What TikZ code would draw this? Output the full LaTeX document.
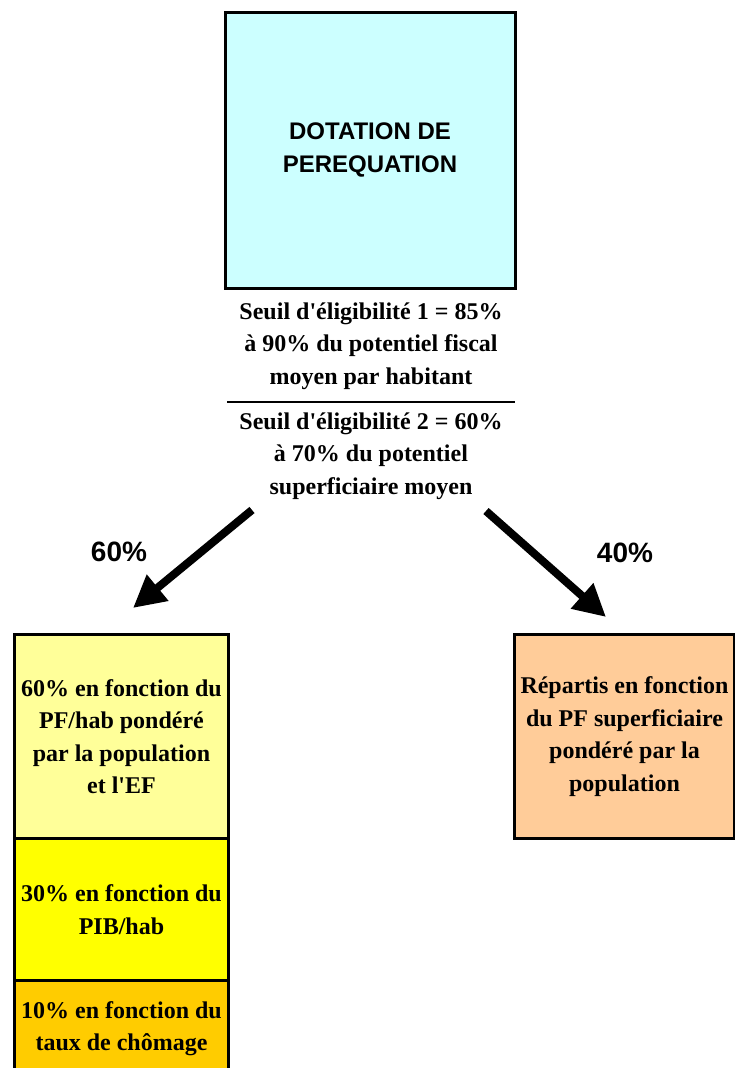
\documentclass[tikz,border=0pt]{standalone}
\usepackage{fontspec}
\setmainfont{Liberation Serif}
\newfontfamily\arialfont{Liberation Sans}
\usetikzlibrary{arrows.meta}
\definecolor{cyanbox}{HTML}{CCFFFF}
\definecolor{paleyellow}{HTML}{FFFF99}
\definecolor{brightyellow}{HTML}{FFFF00}
\definecolor{goldbox}{HTML}{FFCC00}
\definecolor{peachbox}{HTML}{FFCC99}
\newcommand{\apos}{\textquotesingle}
\tikzset{
  panel/.style={draw=black, line width=3pt, rectangle, inner sep=0pt, align=center,
    font=\fontsize{24}{32.5}\selectfont\bfseries},
  headline/.style={panel, font=\arialfont\fontsize{24}{33}\selectfont\bfseries},
  note/.style={inner sep=0pt, align=center, font=\fontsize{24}{32.5}\selectfont\bfseries},
  share/.style={inner sep=0pt, font=\arialfont\fontsize{28}{30}\selectfont\bfseries},
  bigarrow/.style={line width=8pt, -{Triangle[length=32pt,width=32pt]}},
}
\begin{document}
\begin{tikzpicture}[x=1pt,y=-1pt]
\useasboundingbox (0,0) rectangle (735,1068);

% main allocation
\node[headline, fill=cyanbox, minimum width=290pt, minimum height=276pt] (dot) at (370,150)
  {DOTATION DE\\PEREQUATION};

% eligibility thresholds
\node[note] (thr1) at (371,346) {Seuil d\apos éligibilité 1 = 85\%\\à 90\% du potentiel fiscal\\moyen par habitant};
\draw[line width=2.5pt] (227,402) -- (515,402);
\node[note] (thr2) at (371,456) {Seuil d\apos éligibilité 2 = 60\%\\à 70\% du potentiel\\superficiaire moyen};

% left branch: three stacked criteria
\node[panel, fill=paleyellow, minimum width=214pt, minimum height=204pt, anchor=north west] (c1) at (13,633)
  {60\% en fonction du\\PF/hab pondéré\\par la population\\et l\apos EF};
\node[panel, fill=brightyellow, minimum width=214pt, minimum height=142pt, anchor=north west] (c2) at (13,837)
  {30\% en fonction du\\PIB/hab};
\node[panel, fill=goldbox, minimum width=214pt, minimum height=96pt, anchor=north west] (c3) at (13,979)
  {10\% en fonction du\\taux de chômage};

% right branch
\node[panel, fill=peachbox, minimum width=220pt, minimum height=204pt, anchor=north west] (sup) at (513,633)
  {Répartis en fonction\\du PF superficiaire\\pondéré par la\\population};

% split arrows
\coordinate (ls) at (252,510);
\coordinate (le) at (133,608);
\coordinate (rs) at (486,511);
\coordinate (re) at (606,617);
\draw[bigarrow] (ls) -- (le);
\draw[bigarrow] (rs) -- (re);

\node[share] (p60) at (119,552) {60\%};
\node[share] (p40) at (625,553) {40\%};
\end{tikzpicture}
\end{document}
